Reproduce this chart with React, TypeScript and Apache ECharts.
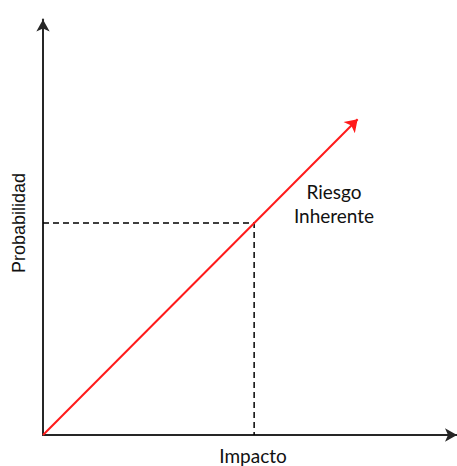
import React, { useEffect, useRef } from "react";
import * as echarts from "echarts";

const axisRange = [0, 100];
const riskArrow = [
  [0, 0],
  [76, 76],
];
const dashedGuide = [
  [0, 51],
  [51, 51],
  [51, 0],
];
const xName = "Impacto";
const yName = "Probabilidad";
const riskLabel = ["Riesgo", "Inherente"];

export default function App() {
  const ref = useRef<HTMLDivElement>(null);
  useEffect(() => {
    if (!ref.current) return;
    const chart = echarts.init(ref.current, null, { renderer: "svg" });
    const axisLineColor = "#262626";
    chart.setOption({
      animation: false,
      backgroundColor: "#ffffff",
      grid: { left: 43, width: 415.5, top: 19.5, height: 415.5 },
      xAxis: {
        type: "value",
        min: axisRange[0],
        max: axisRange[1],
        splitLine: { show: false },
        axisTick: { show: false },
        axisLabel: { show: false },
        axisLine: {
          show: true,
          onZero: false,
          symbol: ["none", "arrow"],
          symbolSize: [10, 12],
          lineStyle: { color: axisLineColor, width: 2 },
        },
      },
      yAxis: {
        type: "value",
        min: axisRange[0],
        max: axisRange[1],
        splitLine: { show: false },
        axisTick: { show: false },
        axisLabel: { show: false },
        axisLine: {
          show: true,
          onZero: false,
          symbol: ["none", "arrow"],
          symbolSize: [10, 12],
          lineStyle: { color: axisLineColor, width: 2 },
        },
      },
      series: [
        {
          type: "line",
          data: dashedGuide,
          symbol: "none",
          silent: true,
          lineStyle: { color: "#000000", width: 1.5, type: [6, 4] },
          z: 2,
        },
        {
          type: "lines",
          coordinateSystem: "cartesian2d",
          silent: true,
          symbol: ["none", "arrow"],
          symbolSize: 12,
          lineStyle: { color: "#ff1a1a", width: 2, opacity: 1 },
          data: [{ coords: riskArrow }],
          z: 3,
        },
      ],
      graphic: [
        {
          type: "text",
          x: 334,
          y: 203,
          style: {
            text: riskLabel.join("\n"),
            fill: "#111111",
            font: "19px Lato",
            lineHeight: 24,
            align: "center",
            verticalAlign: "middle",
          },
        },
        {
          type: "text",
          x: 253,
          y: 455,
          style: {
            text: xName,
            fill: "#111111",
            font: "19px Lato",
            align: "center",
            verticalAlign: "middle",
          },
        },
        {
          type: "text",
          x: 19,
          y: 223,
          rotation: Math.PI / 2,
          style: {
            text: yName,
            fill: "#111111",
            font: "18px Liberation Sans",
            align: "center",
            verticalAlign: "middle",
          },
        },
      ],
    });
    return () => chart.dispose();
  }, []);
  return (
    <div
      ref={ref}
      style={{ position: "absolute", left: 0, top: 0, width: 457, height: 466 }}
    />
  );
}
